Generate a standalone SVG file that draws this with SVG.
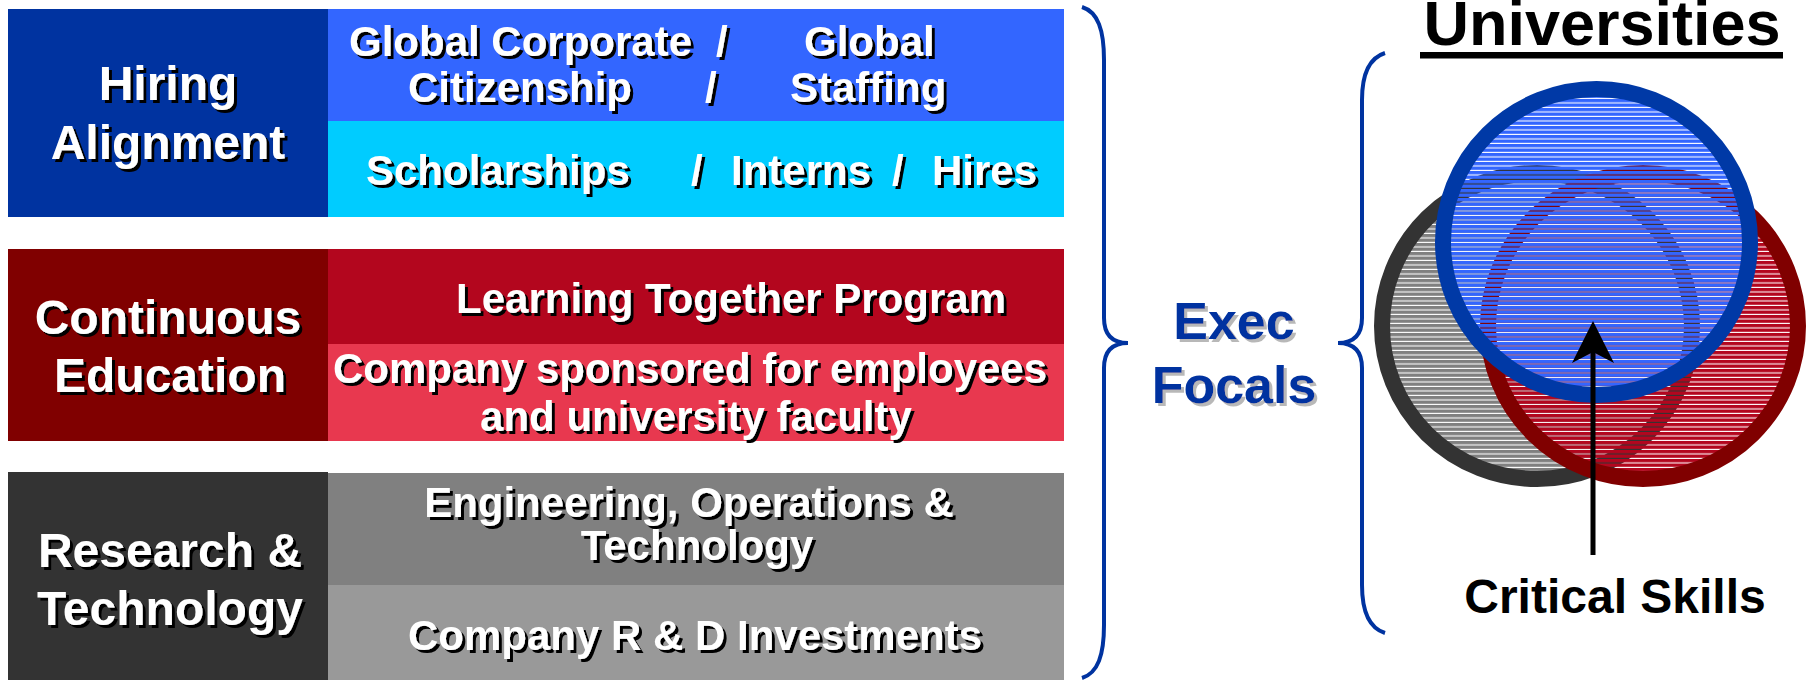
<svg xmlns="http://www.w3.org/2000/svg" width="1811" height="680" viewBox="0 0 1811 680">
<style>
.t{font-family:"Liberation Sans",Arial,sans-serif;font-weight:bold;fill:#fff;filter:url(#sh)}
.l{font-size:48px;text-anchor:middle}
.r{font-size:42px}
.c{text-anchor:middle}
.brace{fill:none;stroke:#0033a0;stroke-width:4}
.ef{font-family:"Liberation Sans",Arial,sans-serif;font-weight:bold;font-size:52px;fill:#0033a0;text-anchor:middle;filter:url(#shg)}
.blk{font-family:"Liberation Sans",Arial,sans-serif;font-weight:bold;fill:#000}
</style>
<defs>
<filter id="sh" x="-10%" y="-20%" width="130%" height="150%"><feDropShadow dx="3" dy="3" stdDeviation="0" flood-color="#000" flood-opacity="1"/></filter>
<filter id="shg" x="-10%" y="-20%" width="130%" height="150%"><feDropShadow dx="3" dy="3" stdDeviation="0" flood-color="#b8b8b8" flood-opacity="1"/></filter>
<pattern id="pb" patternUnits="userSpaceOnUse" width="20" height="4.5"><rect width="20" height="3.4" fill="#3366ff"/></pattern>
<pattern id="pr" patternUnits="userSpaceOnUse" width="20" height="4.5"><rect width="20" height="3.4" fill="#b3061e"/></pattern>
<pattern id="pg" patternUnits="userSpaceOnUse" width="20" height="4.5"><rect width="20" height="3.4" fill="#808080"/></pattern>
</defs>
<rect width="1811" height="680" fill="#fff"/>

<g id="hiring">
<rect x="8" y="9" width="320" height="208" fill="#0033a0"/>
<rect x="328" y="9" width="736" height="112" fill="#3366ff"/>
<rect x="328" y="121" width="736" height="96" fill="#00ccff"/>
<text class="t l" x="168" y="100">Hiring</text>
<text class="t l" x="168" y="159">Alignment</text>
<text class="t r" y="56"><tspan x="349">Global Corporate</tspan><tspan x="716">/</tspan><tspan x="804">Global</tspan></text>
<text class="t r" y="101.5"><tspan x="408">Citizenship</tspan><tspan x="705">/</tspan><tspan x="790">Staffing</tspan></text>
<text class="t r" y="185"><tspan x="366">Scholarships</tspan><tspan x="691">/</tspan><tspan x="731">Interns</tspan><tspan x="892">/</tspan><tspan x="932">Hires</tspan></text>
</g>

<g id="education">
<rect x="8" y="249" width="320" height="192" fill="#800000"/>
<rect x="328" y="249" width="736" height="95" fill="#b3061e"/>
<rect x="328" y="344" width="736" height="97" fill="#e8384f"/>
<text class="t l" x="168" y="334">Continuous</text>
<text class="t l" x="170" y="392">Education</text>
<text class="t r c" x="731" y="313">Learning Together Program</text>
<text class="t r c" x="690" y="383">Company sponsored for employees</text>
<text class="t r c" x="696" y="431">and university faculty</text>
</g>

<g id="research">
<rect x="8" y="472" width="320" height="208" fill="#333333"/>
<rect x="328" y="473" width="736" height="112" fill="#808080"/>
<rect x="328" y="585" width="736" height="95" fill="#999999"/>
<text class="t l" x="170" y="567">Research &amp;</text>
<text class="t l" x="170" y="625">Technology</text>
<text class="t r c" x="689" y="517">Engineering, Operations &amp;</text>
<text class="t r c" x="697" y="560">Technology</text>
<text class="t r c" x="695" y="650">Company R &amp; D Investments</text>
</g>

<g id="exec-focals">
<text class="ef" x="1234" y="339">Exec</text>
<text class="ef" x="1234" y="403">Focals</text>
</g>

<g id="universities">
<text class="blk" x="1602" y="45" font-size="63" text-anchor="middle">Universities</text>
<rect x="1420" y="52" width="363" height="6.5" fill="#000"/>
</g>

<g id="venn">
<ellipse cx="1537" cy="326" rx="155" ry="153" fill="url(#pg)" stroke="#333333" stroke-width="16"/>
<ellipse cx="1643" cy="326" rx="155" ry="153" fill="url(#pr)" stroke="#800000" stroke-width="16"/>
<ellipse cx="1596.5" cy="242" rx="153.5" ry="153" fill="url(#pb)" stroke="#0039a6" stroke-width="16"/>
</g>

<g id="critical-skills">
<text class="blk" x="1615" y="613" font-size="48" text-anchor="middle">Critical Skills</text>
</g>

<g id="connectors">
<path class="brace" d="M1082,7 C1098,12 1104,30 1104,60 L1104,318 C1104,335 1112,343 1128,343 C1112,343 1104,351 1104,368 L1104,625 C1104,655 1098,673 1082,678"/>
<path class="brace" d="M1385,53 C1369,58 1362,75 1362,100 L1362,318 C1362,335 1354,343 1338,343 C1354,343 1362,351 1362,368 L1362,585 C1362,612 1369,628 1385,633"/>
<line x1="1593" y1="555" x2="1593" y2="350" stroke="#000" stroke-width="5"/>
<path d="M1593,321 L1614,363 L1593,352 L1572,363 Z" fill="#000"/>
</g>
</svg>
